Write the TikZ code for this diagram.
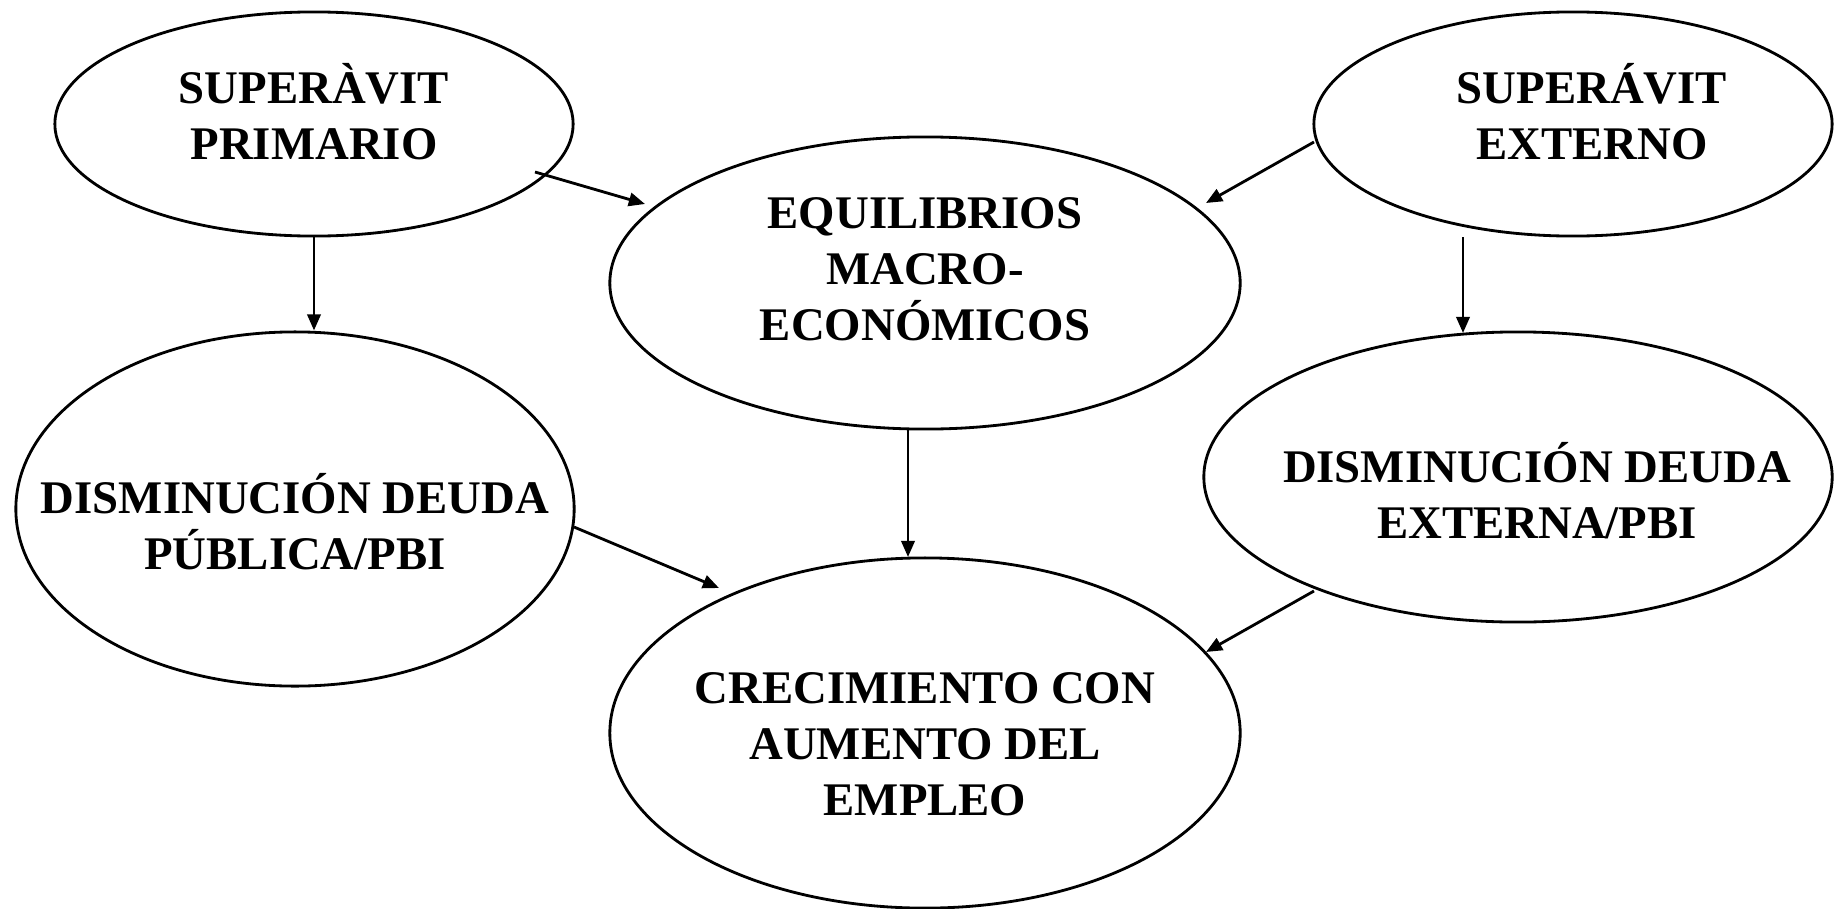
\documentclass[tikz,border=0pt]{standalone}
\usepackage{fontspec}
\setmainfont{Liberation Serif}
\usetikzlibrary{shapes.geometric,arrows.meta}
\begin{document}
\begin{tikzpicture}[x=0.01cm,y=-0.01cm,
  oval/.style={draw,ellipse,line width=0.8pt,inner sep=0pt},
  txt/.style={align=center,font=\fontsize{13.3}{15.9}\selectfont\bfseries},
  flecha/.style={line width=0.8pt,-{Triangle[length=4.6pt,width=3.8pt]}}]
\useasboundingbox (0,0) rectangle (1836,909);
%\draw[help lines] (0,0) grid[step=100] (1836,909);
\node[oval,minimum width=5.18cm,minimum height=2.24cm] (sprim) at (314,124) {};
\node[oval,minimum width=6.30cm,minimum height=2.92cm] (equil) at (925,283) {};
\node[oval,minimum width=5.18cm,minimum height=2.24cm] (sext) at (1573,124) {};
\node[oval,minimum width=5.58cm,minimum height=3.54cm] (dpub) at (295,509) {};
\node[oval,minimum width=6.28cm,minimum height=2.90cm] (dext) at (1518,477) {};
\node[oval,minimum width=6.30cm,minimum height=3.50cm] (crec) at (925,733) {};
\node[txt] at ([shift={(0,-12)}]sprim.center) {SUPERÀVIT\\PRIMARIO};
\node[txt] at ([shift={(0,-14)}]equil.center) {EQUILIBRIOS\\MACRO-\\ECONÓMICOS};
\node[txt] at ([shift={(19,-12)}]sext.center) {SUPERÁVIT\\EXTERNO};
\node[txt] at ([shift={(0,13)}]dpub.center) {DISMINUCIÓN DEUDA\\PÚBLICA/PBI};
\node[txt] at ([shift={(19,14)}]dext.center) {DISMINUCIÓN DEUDA\\EXTERNA/PBI};
\node[txt] at ([shift={(0,11)}]crec.center) {CRECIMIENTO CON\\AUMENTO DEL\\EMPLEO};
\draw[flecha] ([shift={(221,48)}]sprim.center) -- ([shift={(-280,-79)}]equil.center);
\draw[flecha] (sprim.south) -- (sprim.south |- dpub.north);
\draw[flecha] ([shift={(-259,18)}]sext.center) -- ([shift={(281,-80)}]equil.center);
\draw[flecha] ([shift={(-110,113)}]sext.center) -- ([shift={(-55,-144)}]dext.center);
\draw[flecha] ([shift={(-17,147)}]equil.center) -- ([shift={(-17,-176)}]crec.center);
\draw[flecha] ([shift={(279,18)}]dpub.center) -- ([shift={(-206,-145)}]crec.center);
\draw[flecha] ([shift={(-204,114)}]dext.center) -- ([shift={(281,-81)}]crec.center);
\end{tikzpicture}
\end{document}
